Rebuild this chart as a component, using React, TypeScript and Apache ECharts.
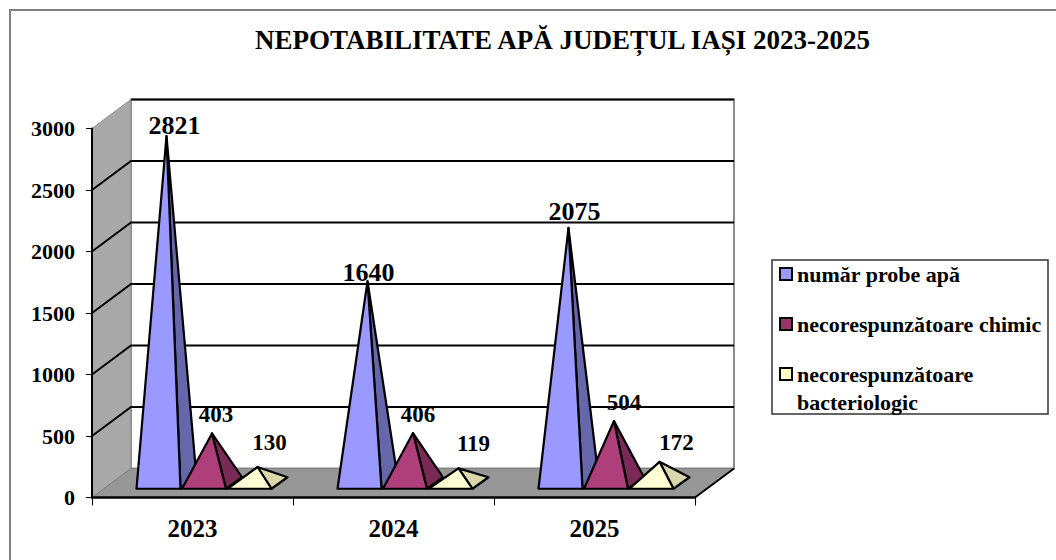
import React, { useEffect, useRef } from "react";
import * as echarts from "echarts";

const categories = ["2023", "2024", "2025"];
const probeApa = [2821, 1640, 2075];
const chimic = [403, 406, 504];
const bacteriologic = [130, 119, 172];
const yTicks = [0, 500, 1000, 1500, 2000, 2500, 3000];
const seriesNames = ["număr probe apă", "necorespunzătoare chimic", "necorespunzătoare bacteriologic"];

const SERIF = "Liberation Serif";
const DEPTH_X = 39;
const DEPTH_Y = -29;
const BASE_HALF = 22;
const BASE_DX = 8;
const BASE_DY = -5.75;
const STEP = 45.5;

const faceColors = [
  { front: "#9999FF", side: "#6666AA", legend: "#9999FF" },
  { front: "#AF3F7B", side: "#7A2A56", legend: "#993366" },
  { front: "#FFFFD5", side: "#D8D8AA", legend: "#FFFFCC" },
];
// label nudges from the apex, per series and category: [dx, dy to the text's bottom]
const labelNudge = [
  [[8, 2], [1, 4], [6, -3]],
  [[4, -7], [5, -7], [10, -7]],
  [[12, -13], [15, -13], [17, -8]],
];
const labelSize = [26, 23, 23];

function pyramidSeries(name: string, values: number[], idx: number) {
  return {
    type: "custom",
    name,
    coordinateSystem: "cartesian2d",
    clip: false,
    z: 5 + idx,
    itemStyle: { color: faceColors[idx].legend, borderColor: "#000", borderWidth: 2 },
    encode: { x: 0, y: 1 },
    data: values.map((v, i) => [i, v]),
    renderItem: (_p: any, api: any) => {
      const cat = api.value(0);
      const val = api.value(1);
      const top = api.coord([cat, val]);
      const zero = api.coord([cat, 0]);
      const off = (idx - 1) * STEP + DEPTH_X / 2;
      const cx = zero[0] + off;
      const cy = zero[1] + DEPTH_Y / 2;
      const apex = [top[0] + off, top[1] + DEPTH_Y / 2];
      const fl = [cx - BASE_DX - BASE_HALF, cy - BASE_DY];
      const fr = [cx - BASE_DX + BASE_HALF, cy - BASE_DY];
      const br = [cx + BASE_DX + BASE_HALF, cy + BASE_DY];
      const c = faceColors[idx];
      const stroke = { stroke: "#000", lineWidth: 2.2, lineJoin: "round" };
      const [ndx, ndy] = labelNudge[idx][cat];
      return {
        type: "group",
        children: [
          { type: "polygon", shape: { points: [fr, br, apex] }, style: { fill: c.side, ...stroke } },
          { type: "polygon", shape: { points: [fl, fr, apex] }, style: { fill: c.front, ...stroke } },
          {
            type: "text",
            z2: 50,
            style: {
              text: String(val),
              x: apex[0] + ndx,
              y: apex[1] + ndy,
              align: "center",
              verticalAlign: "bottom",
              fill: "#000",
              font: `bold ${labelSize[idx]}px "${SERIF}"`,
            },
          },
        ],
      };
    },
  };
}

const wallSeries = {
  type: "custom",
  name: "walls",
  coordinateSystem: "cartesian2d",
  clip: false,
  silent: true,
  z: 1,
  encode: { x: 0, y: 1 },
  data: [[0, 0]],
  renderItem: (_p: any, api: any) => {
    const lastCat = categories.length - 1;
    const band = api.size([1, 0])[0];
    const xLeft = api.coord([0, 0])[0] - band / 2;
    const xRight = api.coord([lastCat, 0])[0] + band / 2;
    const y0 = api.coord([0, 0])[1];
    const yTop = api.coord([0, yTicks[yTicks.length - 1]])[1];
    const bx = xLeft + DEPTH_X;
    const brx = xRight + DEPTH_X;
    const children: any[] = [
      { type: "polygon", shape: { points: [[bx, yTop + DEPTH_Y], [brx, yTop + DEPTH_Y], [brx, y0 + DEPTH_Y], [bx, y0 + DEPTH_Y]] }, style: { fill: "#fff", stroke: "#8c8c8c", lineWidth: 2 } },
      { type: "polygon", shape: { points: [[xLeft, y0], [xLeft, yTop], [bx, yTop + DEPTH_Y], [bx, y0 + DEPTH_Y]] }, style: { fill: "#A8A8A8", stroke: "#8c8c8c", lineWidth: 1 } },
      { type: "polygon", shape: { points: [[xLeft, y0], [bx, y0 + DEPTH_Y], [brx, y0 + DEPTH_Y], [xRight, y0]] }, style: { fill: "#969696", stroke: "#808080", lineWidth: 1 } },
    ];
    yTicks.forEach((t) => {
      if (t === 0) return;
      const y = api.coord([0, t])[1];
      const isTop = t === yTicks[yTicks.length - 1];
      if (!isTop) {
        children.push({ type: "polyline", shape: { points: [[xLeft, y], [bx, y + DEPTH_Y], [brx, y + DEPTH_Y]] }, style: { fill: "none", stroke: "#000", lineWidth: 2 } });
      } else {
        children.push({ type: "line", shape: { x1: bx, y1: y + DEPTH_Y, x2: brx, y2: y + DEPTH_Y }, style: { stroke: "#000", lineWidth: 2 } });
      }
    });
    children.push({ type: "line", shape: { x1: xRight, y1: y0, x2: brx, y2: y0 + DEPTH_Y }, style: { stroke: "#000", lineWidth: 2 } });
    return { type: "group", children };
  },
};

export default function App() {
  const ref = useRef<HTMLDivElement>(null);
  useEffect(() => {
    const chart = echarts.init(ref.current!, undefined, { renderer: "svg", width: 1056, height: 560 });
    chart.setOption({
      animation: false,
      backgroundColor: "#fff",
      textStyle: { fontFamily: SERIF },
      title: {
        text: "NEPOTABILITATE APĂ JUDEȚUL IAȘI 2023-2025",
        left: 557.5,
        top: 21,
        textAlign: "center",
        textStyle: { fontFamily: SERIF, fontWeight: "bold", fontSize: 27, color: "#000" },
      },
      grid: { left: 92, top: 128.5, width: 603, height: 369 },
      xAxis: {
        type: "category",
        data: categories,
        boundaryGap: true,
        axisLine: { lineStyle: { color: "#000", width: 2.5 } },
        axisTick: { show: true, length: 8, lineStyle: { color: "#000", width: 1 } },
        axisLabel: { color: "#000", fontFamily: SERIF, fontWeight: "bold", fontSize: 25, margin: 18 },
        z: 3,
      },
      yAxis: {
        type: "value",
        min: 0,
        max: 3000,
        interval: 500,
        axisLine: { show: true, lineStyle: { color: "#000", width: 2 } },
        axisTick: { show: true, length: 6, lineStyle: { color: "#000", width: 1 } },
        axisLabel: { color: "#000", fontFamily: SERIF, fontWeight: "bold", fontSize: 22, margin: 17, formatter: (v: number) => String(v) },
        splitLine: { show: false },
        z: 3,
      },
      legend: {
        left: 773,
        top: 257,
        orient: "vertical",
        padding: 6,
        itemWidth: 12,
        itemHeight: 12,
        itemGap: 28,
        data: seriesNames.map((name, i) => ({
          name,
          icon: "rect",
          itemStyle: { color: faceColors[i].legend, borderColor: "#000", borderWidth: 2 },
        })),
        formatter: (n: string) => n.replace(" bacteriologic", ""),
        textStyle: { fontFamily: SERIF, fontWeight: "bold", fontSize: 22, color: "#000", padding: [0, 0, 0, 0] },
      },
      graphic: [
        { type: "rect", z: -1, shape: { x: 10, y: 10, width: 1060, height: 600 }, style: { fill: "none", stroke: "#808080", lineWidth: 2 } },
        { type: "rect", z: 0, shape: { x: 772, y: 260, width: 276, height: 154 }, style: { fill: "#fff", stroke: "#333", lineWidth: 1.5 } },
        { type: "text", z: 10, style: { text: "bacteriologic", x: 797, y: 402, verticalAlign: "middle", fill: "#000", font: `bold 22px "${SERIF}"` } },
      ],
      series: [
        wallSeries,
        pyramidSeries(seriesNames[0], probeApa, 0),
        pyramidSeries(seriesNames[1], chimic, 1),
        pyramidSeries(seriesNames[2], bacteriologic, 2),
      ],
    });
    return () => chart.dispose();
  }, []);
  return <div ref={ref} style={{ position: "absolute", left: 0, top: 0, width: 1056, height: 560 }} />;
}
